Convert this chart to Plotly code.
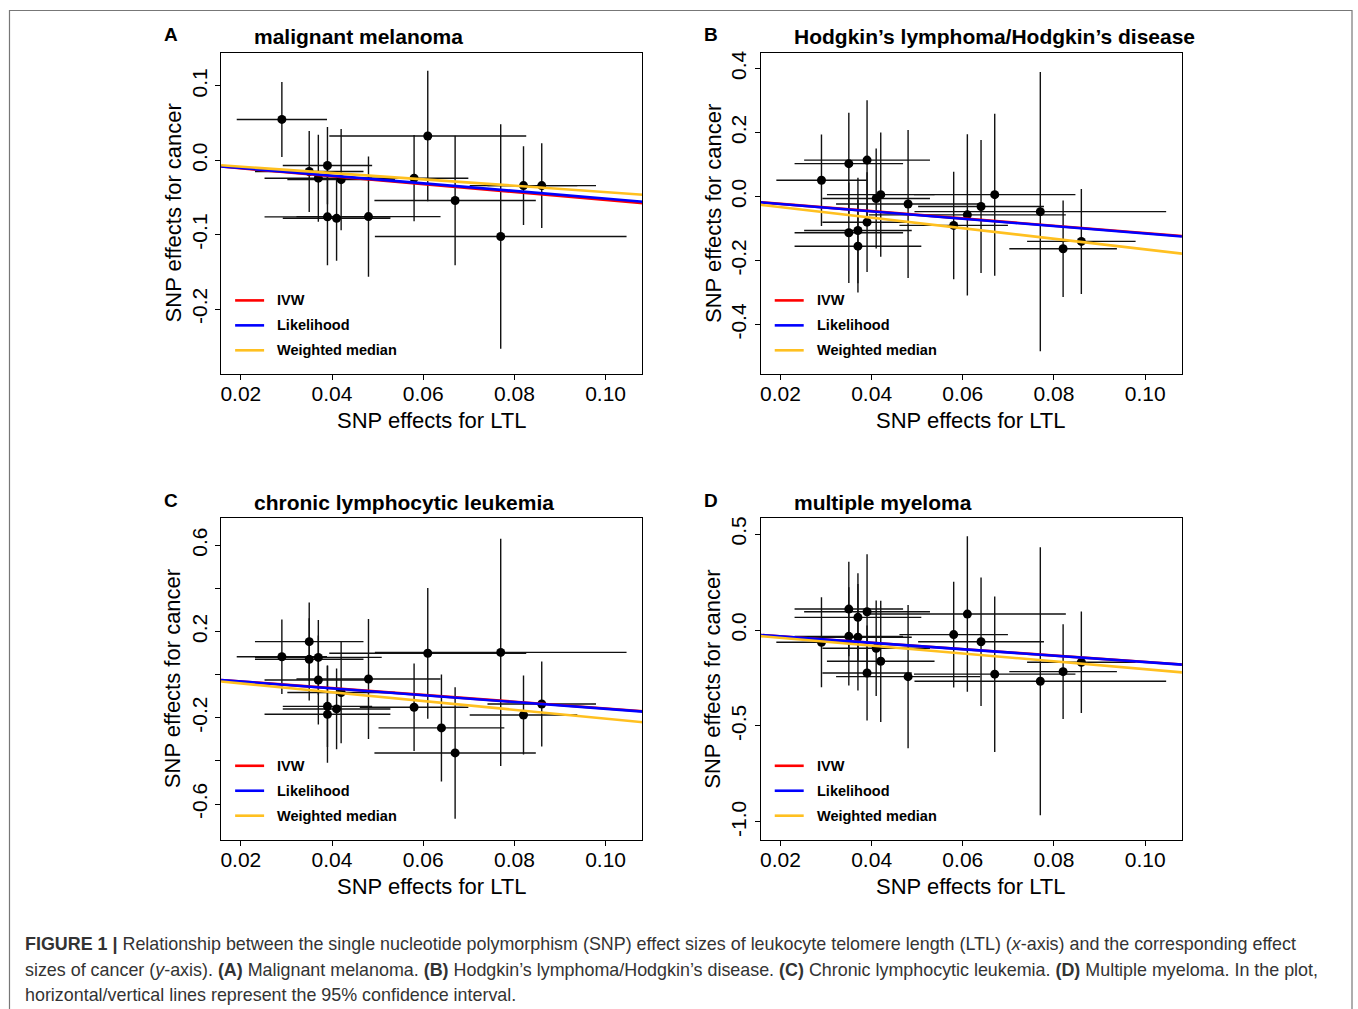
import plotly.graph_objects as go

# ---------------- data ----------------
# SNP effects for LTL (shared across outcomes) and 95% CI half-widths
ltl_beta = [0.029, 0.035, 0.035, 0.037, 0.037, 0.039, 0.039, 0.041, 0.042,
            0.048, 0.058, 0.061, 0.064, 0.067, 0.077, 0.082, 0.086]
ltl_ci = [0.0099, 0.0119, 0.0119, 0.0139, 0.0118, 0.0138, 0.0098, 0.0118, 0.0118,
          0.0158, 0.0119, 0.0216, 0.0138, 0.0177, 0.0276, 0.0118, 0.0119]

# Panel A: malignant melanoma (SNPs available)
mel_idx = [0, 1, 4, 5, 6, 7, 8, 9, 10, 11, 13, 14, 15, 16]
mel_beta = [0.055, -0.0150, -0.024, -0.076, -0.007, -0.078, -0.026, -0.0757,
            -0.024, 0.0327, -0.054, -0.1025, -0.034, -0.034]
mel_ci = [0.0505, 0.0545, 0.0585, 0.065, 0.052, 0.057, 0.068, 0.081,
          0.058, 0.0877, 0.087, 0.151, 0.053, 0.057]

# Panel B: Hodgkin's lymphoma
hl_beta = [0.051, 0.103, -0.113, -0.155, -0.106, 0.114, -0.080, -0.006, 0.006,
           -0.023, -0.090, -0.057, -0.031, 0.006, -0.047, -0.163, -0.140]
hl_ci = [0.143, 0.159, 0.157, 0.145, 0.165, 0.187, 0.156, 0.156, 0.194,
         0.231, 0.168, 0.252, 0.208, 0.253, 0.436, 0.151, 0.164]

# Panel C: chronic lymphocytic leukemia
cll_beta = [0.083, 0.153, 0.071, 0.080, -0.025, -0.184, -0.147, -0.159, -0.083,
            -0.020, -0.151, 0.099, -0.247, -0.363, 0.103, -0.187, -0.136]
cll_ci = [0.173, 0.182, 0.191, 0.173, 0.206, 0.225, 0.189, 0.187, 0.235,
          0.278, 0.203, 0.303, 0.248, 0.305, 0.527, 0.183, 0.197]

# Panel D: multiple myeloma
mm_beta = [-0.064, 0.109, -0.033, 0.066, -0.038, 0.095, -0.224, -0.095, -0.163,
           -0.243, -0.024, 0.083, -0.061, -0.230, -0.267, -0.217, -0.168]
mm_ci = [0.234, 0.246, 0.256, 0.229, 0.277, 0.300, 0.247, 0.249, 0.316,
         0.373, 0.275, 0.405, 0.335, 0.405, 0.698, 0.247, 0.264]

# Causal estimates (slopes): IVW, Likelihood, Weighted median
methods = ["IVW", "Likelihood", "Weighted median"]
method_colors = ["#FF0000", "#0000FF", "#FFC020"]
mel_slopes = [-0.534, -0.515, -0.427]
hl_slopes = [-1.14, -1.154, -1.65]
cll_slopes = [-1.57, -1.586, -2.04]
mm_slopes = [-1.66, -1.67, -2.04]

panel_titles = ["malignant melanoma", "Hodgkin\u2019s lymphoma/Hodgkin\u2019s disease",
                "chronic lymphocytic leukemia", "multiple myeloma"]
panel_letters = ["A", "B", "C", "D"]

x_ticks = [0.02, 0.04, 0.06, 0.08, 0.10]
x_ticktext = ["0.02", "0.04", "0.06", "0.08", "0.10"]
y_ticks = [[-0.2, -0.1, 0.0, 0.1],
           [-0.4, -0.2, 0.0, 0.2, 0.4],
           [-0.6, -0.4, -0.2, 0.0, 0.2, 0.4, 0.6],
           [-1.0, -0.5, 0.0, 0.5]]
y_ticktext = [["-0.2", "-0.1", "0.0", "0.1"],
              ["-0.4", "-0.2", "0.0", "0.2", "0.4"],
              ["-0.6", "", "-0.2", "", "0.2", "", "0.6"],
              ["-1.0", "-0.5", "0.0", "0.5"]]
x_range = [0.01568, 0.10804]
y_ranges = [[-0.2868, 0.1445], [-0.553, 0.449], [-0.765, 0.725], [-1.092, 0.582]]

caption_lines = [
    "<b>FIGURE 1 |</b> Relationship between the single nucleotide polymorphism (SNP) effect sizes of leukocyte telomere length (LTL) (<i>x</i>-axis) and the corresponding effect",
    "sizes of cancer (<i>y</i>-axis). <b>(A)</b> Malignant melanoma. <b>(B)</b> Hodgkin\u2019s lymphoma/Hodgkin\u2019s disease. <b>(C)</b> Chronic lymphocytic leukemia. <b>(D)</b> Multiple myeloma. In the plot,",
    "horizontal/vertical lines represent the 95% confidence interval.",
]

# ---------------- layout helpers ----------------
W, H = 1358, 1009
FONT = "Liberation Sans, Arial, sans-serif"


def px(x):
    return x / W


def py(y):
    return 1 - y / H


# plot-area boxes in page pixels: (left, top, right, bottom)
boxes = [(220.3, 51.0, 641.7, 372.3), (760.3, 51.0, 1181.7, 372.3),
         (220.3, 517.3, 641.7, 839.3), (760.3, 517.3, 1181.7, 839.3)]

panels = [
    ([ltl_beta[i] for i in mel_idx], [ltl_ci[i] for i in mel_idx], mel_beta, mel_ci, mel_slopes),
    (ltl_beta, ltl_ci, hl_beta, hl_ci, hl_slopes),
    (ltl_beta, ltl_ci, cll_beta, cll_ci, cll_slopes),
    (ltl_beta, ltl_ci, mm_beta, mm_ci, mm_slopes),
]

fig = go.Figure()
shapes = []
annotations = []
layout_axes = {}

for k, (xs, xe, ys, ye, slopes) in enumerate(panels):
    n = k + 1
    xa = "x" if n == 1 else f"x{n}"
    ya = "y" if n == 1 else f"y{n}"
    fig.add_trace(go.Scatter(
        x=xs, y=ys, mode="markers", xaxis=xa, yaxis=ya, showlegend=False,
        marker=dict(color="black", size=9),
        error_x=dict(type="data", array=xe, symmetric=True, color="#111111", thickness=1.4, width=0),
        error_y=dict(type="data", array=ye, symmetric=True, color="#111111", thickness=1.4, width=0),
    ))
    for m, s in enumerate(slopes):
        lx = [0.0, 0.12]
        fig.add_trace(go.Scatter(
            x=lx, y=[s * v for v in lx], mode="lines", xaxis=xa, yaxis=ya, showlegend=False,
            line=dict(color=method_colors[m], width=2.6), hoverinfo="skip",
        ))

    L, T, R, B = boxes[k]
    xkey = "xaxis" if n == 1 else f"xaxis{n}"
    ykey = "yaxis" if n == 1 else f"yaxis{n}"
    common = dict(showgrid=False, zeroline=False, showline=True, mirror=True,
                  linecolor="black", linewidth=1, ticks="outside", ticklen=5,
                  tickcolor="black", tickwidth=1,
                  tickfont=dict(family=FONT, size=21, color="black"))
    layout_axes[xkey] = dict(domain=[px(L), px(R)], range=x_range, anchor=ya,
                             tickvals=x_ticks, ticktext=x_ticktext,
                             ticklabelstandoff=-4, **common)
    layout_axes[ykey] = dict(domain=[py(B), py(T)], range=y_ranges[k], anchor=xa,
                             tickvals=y_ticks[k], ticktext=y_ticktext[k], tickangle=-90,
                             **common)

    # panel letter and title
    annotations.append(dict(text=f"<b>{panel_letters[k]}</b>", x=px(L - 50), y=py(T - 18),
                            xref="paper", yref="paper", showarrow=False,
                            xanchor="center", yanchor="middle",
                            font=dict(family=FONT, size=19, color="black")))
    annotations.append(dict(text=f"<b>{panel_titles[k]}</b>", x=px(L + 31), y=py(T - 16),
                            xref="paper", yref="paper", showarrow=False,
                            xanchor="left", yanchor="middle",
                            font=dict(family=FONT, size=21, color="black")))
    # axis titles
    annotations.append(dict(text="SNP effects for LTL", x=px((L + R) / 2), y=py(B + 47),
                            xref="paper", yref="paper", showarrow=False,
                            xanchor="center", yanchor="middle",
                            font=dict(family=FONT, size=22, color="black")))
    annotations.append(dict(text="SNP effects for cancer", x=px(L - 48), y=py((T + B) / 2),
                            xref="paper", yref="paper", showarrow=False, textangle=-90,
                            xanchor="center", yanchor="middle",
                            font=dict(family=FONT, size=22, color="black")))
    # legend
    for m, name in enumerate(methods):
        yy = T + 248 + m * 25
        shapes.append(dict(type="line", xref="paper", yref="paper",
                           x0=px(L + 14), x1=px(L + 43), y0=py(yy), y1=py(yy),
                           line=dict(color=method_colors[m], width=2.6)))
        annotations.append(dict(text=f"<b>{name}</b>", x=px(L + 54), y=py(yy),
                                xref="paper", yref="paper", showarrow=False,
                                xanchor="left", yanchor="middle",
                                font=dict(family=FONT, size=14.5, color="black")))

# caption
for i, line in enumerate(caption_lines):
    annotations.append(dict(text=line, x=px(22), y=py(944 + 25.5 * i),
                            xref="paper", yref="paper", showarrow=False,
                            xanchor="left", yanchor="middle", align="left",
                            font=dict(family=FONT, size=17.9, color="#333333")))

# outer frame (left, top, right)
frame = dict(color="#777777", width=1.2)
shapes.append(dict(type="line", xref="paper", yref="paper", x0=px(8.5), x1=px(8.5), y0=py(8), y1=py(1012), line=frame))
shapes.append(dict(type="line", xref="paper", yref="paper", x0=px(8.5), x1=px(1352), y0=py(8.5), y1=py(8.5), line=frame))
shapes.append(dict(type="line", xref="paper", yref="paper", x0=px(1352), x1=px(1352), y0=py(8), y1=py(1012), line=frame))

fig.update_layout(
    width=W, height=H, autosize=False,
    margin=dict(l=0, r=0, t=0, b=0),
    paper_bgcolor="white", plot_bgcolor="white",
    font=dict(family=FONT, color="black"),
    shapes=shapes, annotations=annotations,
    **layout_axes,
)

fig.write_html("out.html", config={"displayModeBar": False},
               post_script="document.body.style.margin='0px';document.body.style.overflow='hidden';")
